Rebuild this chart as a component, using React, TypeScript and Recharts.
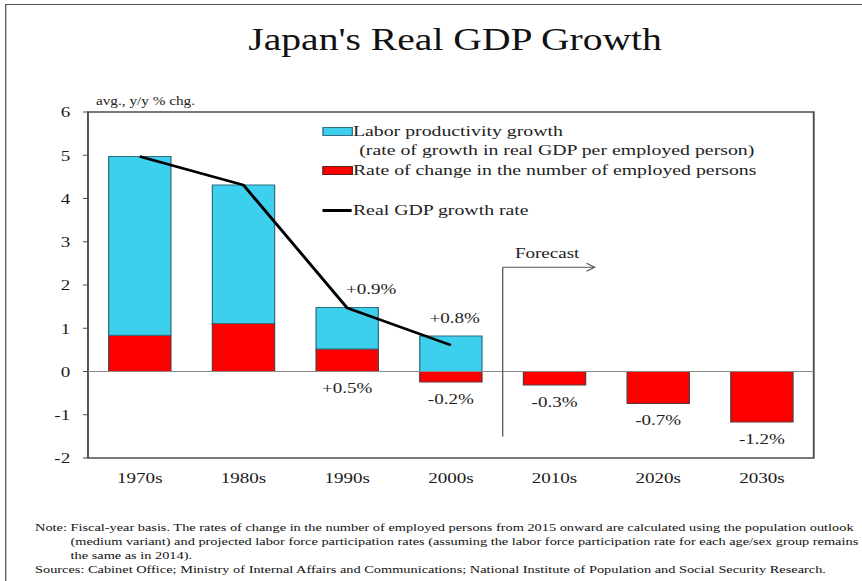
import React from 'react';
import {
  ComposedChart, Bar, Line, XAxis, YAxis, LabelList,
  ReferenceLine, ReferenceArea,
} from 'recharts';

const CATEGORIES = ['1970s', '1980s', '1990s', '2000s', '2010s', '2020s', '2030s'];
const LABOR_PRODUCTIVITY = [4.13, 3.2, 0.96, 0.82, null, null, null];
const EMPLOYED_CHANGE = [0.84, 1.11, 0.52, -0.24, -0.31, -0.74, -1.17];
const REAL_GDP = [4.97, 4.31, 1.47, 0.61, null, null, null];
const LABOR_LABELS = [null, null, '+0.9%', '+0.8%', null, null, null];
const EMPLOYED_LABELS = [null, null, '+0.5%', '-0.2%', '-0.3%', '-0.7%', '-1.2%'];
const Y_TICKS = [-2, -1, 0, 1, 2, 3, 4, 5, 6];
const BOUNDARY_TICKS = [0, 1, 2, 3, 4, 5, 6, 7];

const NOTE_LINES = [
  'Note: Fiscal-year basis. The rates of change in the number of employed persons from 2015 onward are calculated using the population outlook',
  '(medium variant) and projected labor force participation rates (assuming the labor force participation rate for each age/sex group remains',
  'the same as in 2014).',
];
const SOURCES = 'Sources: Cabinet Office; Ministry of Internal Affairs and Communications; National Institute of Population and Social Security Research.';

// the forecast bracket, in chart units
const FORECAST_TOP = 2.41;
const FORECAST_BOTTOM = -1.5;

const data = CATEGORIES.map((name, i) => ({
  name,
  labor: LABOR_PRODUCTIVITY[i],
  employed: EMPLOYED_CHANGE[i],
  gdp: REAL_GDP[i],
  laborLabel: LABOR_LABELS[i],
  employedLabel: EMPLOYED_LABELS[i],
}));

const SERIF = "'Liberation Serif', 'Times New Roman', serif";
const CYAN = '#3dd0ee';
const RED = '#ff0000';
const FRAME = '#4d4d4d';
// the reference is a horizontally stretched picture
const STRETCH = 1.2695;
const W = 679;

function laborLabel(props: any) {
  const { x, y, width, value, index } = props;
  if (!value) return null;
  // 1990s label sits to the right so it clears the GDP line
  const dx = index === 2 ? 19 : 3;
  return (
    <text x={x + width / 2 + dx} y={y - 18} textAnchor="middle" dominantBaseline="central"
      fontFamily={SERIF} fontSize={15} fill="#222">{value}</text>
  );
}

function employedLabel(props: any) {
  const { x, y, width, height, value } = props;
  if (!value) return null;
  const bottom = Math.max(y, y + height);
  return (
    <text x={x + width / 2} y={bottom + 17} textAnchor="middle" dominantBaseline="central"
      fontFamily={SERIF} fontSize={15} fill="#222">{value}</text>
  );
}

function ForecastMarker(props: any) {
  const { x1, y1, y2 } = props;
  const top = Math.min(y1, y2);
  const bottom = Math.max(y1, y2);
  const end = x1 + 72.5;
  return (
    <g>
      <line x1={x1} y1={top} x2={x1} y2={bottom} stroke="#555" strokeWidth={1} />
      <line x1={x1} y1={top} x2={end} y2={top} stroke="#555" strokeWidth={1} />
      <polyline points={`${end - 6.5},${top - 4} ${end},${top} ${end - 6.5},${top + 4}`} fill="none" stroke="#555" strokeWidth={1} />
      <text x={x1 + 9.6} y={top - 14} dominantBaseline="central" fontFamily={SERIF} fontSize={15} fill="#222">Forecast</text>
    </g>
  );
}

function LegendBox() {
  const text = { position: 'absolute' as const, fontFamily: SERIF, fontSize: 15.6, color: '#222', whiteSpace: 'nowrap' as const, lineHeight: '18px' };
  return (
    <div style={{ position: 'absolute', left: 0, top: 0 }}>
      <div style={{ position: 'absolute', left: 253.5, top: 127, width: 22, height: 7, background: CYAN, border: '1px solid #2f6f80' }} />
      <div style={{ ...text, left: 278, top: 122 }}>Labor productivity growth</div>
      <div style={{ ...text, left: 283, top: 141 }}>(rate of growth in real GDP per employed person)</div>
      <div style={{ position: 'absolute', left: 253.5, top: 166, width: 22, height: 7, background: RED, border: '1px solid #5a2020' }} />
      <div style={{ ...text, left: 278, top: 161 }}>Rate of change in the number of employed persons</div>
      <div style={{ position: 'absolute', left: 253.5, top: 208.5, width: 23, height: 3, background: '#000' }} />
      <div style={{ ...text, left: 278, top: 201 }}>Real GDP growth rate</div>
    </div>
  );
}

export default function App() {
  return (
    <div style={{ position: 'absolute', left: 0, top: 0, width: 862, height: 581, overflow: 'hidden', background: '#fff' }}>
      <div style={{ position: 'absolute', left: 0, top: 0, width: W, height: 581, transform: `scaleX(${STRETCH})`, transformOrigin: '0 0' }}>
        {/* outer frame, only left and top edges are in view */}
        <div style={{ position: 'absolute', left: 4, top: 4, width: 2000, height: 2000, borderLeft: '1.5px solid #555', borderTop: '1.5px solid #555' }} />

        <div style={{ position: 'absolute', left: 0, width: 717, top: 21, textAlign: 'center', fontFamily: SERIF, fontSize: 31.2, color: '#111', lineHeight: '38px' }}>
          Japan's Real GDP Growth
        </div>
        <div style={{ position: 'absolute', left: 75.6, top: 93, fontFamily: SERIF, fontSize: 12, color: '#222', whiteSpace: 'nowrap', lineHeight: '16px' }}>
          avg., y/y % chg.
        </div>

        <div style={{ position: 'absolute', left: 0, top: 0 }}>
          <ComposedChart width={W} height={500} data={data} stackOffset="sign" barCategoryGap="20%"
            margin={{ top: 112, right: 38, bottom: 12, left: 19.3 }}>
            <XAxis xAxisId="edges" type="number" domain={[0, 7]} ticks={BOUNDARY_TICKS} tick={false}
              tickSize={5} height={0} axisLine={false} tickLine={{ stroke: FRAME }} allowDataOverflow />
            <XAxis dataKey="name" height={30} axisLine={false} tickLine={false} tickSize={6} tickMargin={8}
              tick={{ fill: '#1a1a1a', fontSize: 15, fontFamily: SERIF }} interval={0} />
            <YAxis domain={[-2, 6]} ticks={Y_TICKS} width={50} axisLine={false} tickSize={4} tickMargin={10}
              tickLine={{ stroke: FRAME }} tick={{ fill: '#1a1a1a', fontSize: 15, fontFamily: SERIF }} allowDataOverflow />
            <ReferenceArea x1="1970s" x2="2030s" y1={-2} y2={6} fill="none" stroke={FRAME} strokeWidth={1.5} ifOverflow="visible" />
            <ReferenceLine y={0} stroke="#8a8a8a" strokeWidth={1} />
            <Bar dataKey="employed" stackId="gdp" fill={RED} stroke="#5a3a3a" strokeWidth={1} isAnimationActive={false}>
              <LabelList dataKey="employedLabel" content={employedLabel} />
            </Bar>
            <Bar dataKey="labor" stackId="gdp" fill={CYAN} stroke="#2f6f80" strokeWidth={1} isAnimationActive={false}>
              <LabelList dataKey="laborLabel" content={laborLabel} />
            </Bar>
            <Line dataKey="gdp" stroke="#000" strokeWidth={2.5} dot={false} activeDot={false}
              connectNulls={false} isAnimationActive={false} />
            <ReferenceLine segment={[{ x: '2010s', y: FORECAST_TOP }, { x: '2010s', y: FORECAST_BOTTOM }]}
              position="start" shape={ForecastMarker} />
          </ComposedChart>
        </div>

        <LegendBox />

        <div style={{ position: 'absolute', left: 27.6, top: 520, fontFamily: SERIF, fontSize: 11.3, color: '#111', lineHeight: '14px', whiteSpace: 'nowrap' }}>
          <div>{NOTE_LINES[0]}</div>
          <div style={{ paddingLeft: 28 }}>{NOTE_LINES[1]}</div>
          <div style={{ paddingLeft: 28 }}>{NOTE_LINES[2]}</div>
          <div>{SOURCES}</div>
        </div>
      </div>
    </div>
  );
}
